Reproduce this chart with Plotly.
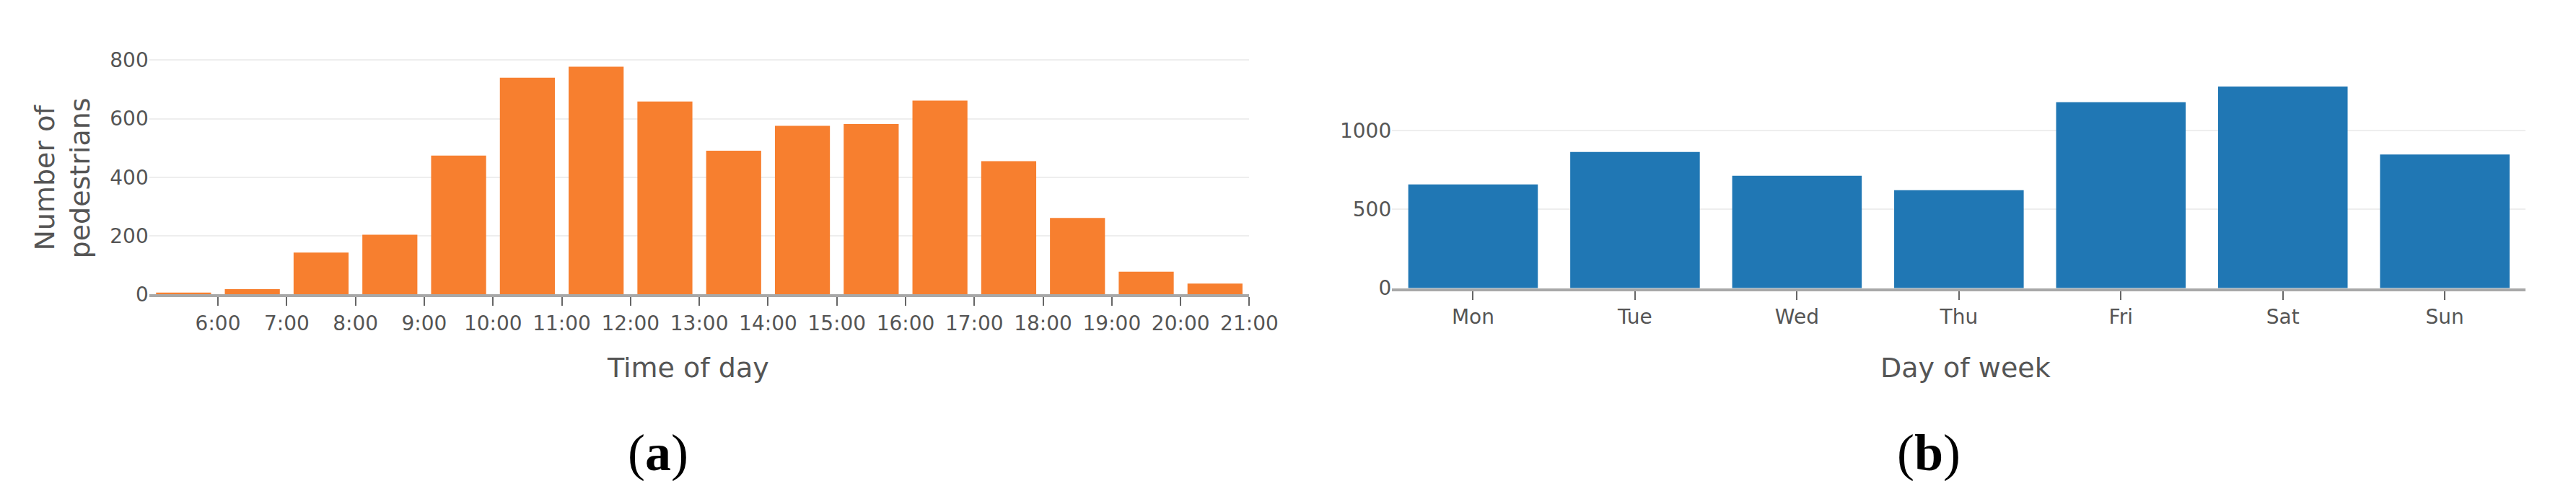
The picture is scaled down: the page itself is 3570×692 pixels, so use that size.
import plotly.graph_objects as go

# hourly counts, bar k covers hour_starts[k] .. hour_starts[k] + 1
hour_starts = [5, 6, 7, 8, 9, 10, 11, 12, 13, 14, 15, 16, 17, 18, 19, 20]
hour_counts = [6, 18, 143, 204, 474, 740, 778, 659, 491, 576, 582, 662, 455, 261, 78, 37]
hour_tickvals = [6, 7, 8, 9, 10, 11, 12, 13, 14, 15, 16, 17, 18, 19, 20, 21]
hour_ticktext = ['6:00', '7:00', '8:00', '9:00', '10:00', '11:00', '12:00', '13:00',
                 '14:00', '15:00', '16:00', '17:00', '18:00', '19:00', '20:00', '21:00']

days = ['Mon', 'Tue', 'Wed', 'Thu', 'Fri', 'Sat', 'Sun']
day_counts = [658, 863, 712, 621, 1179, 1278, 847]

W, H = 3570, 692
FONT = 'DejaVu Sans'
TXT = '#555555'


def px(x):
    return x / W


def py(y):
    return 1 - y / H


fig = go.Figure()

fig.add_trace(go.Bar(
    x=hour_starts, y=hour_counts, width=0.8, offset=0.1,
    marker=dict(color='#f77f2f', line=dict(width=0)),
    xaxis='x', yaxis='y', hoverinfo='x+y',
))
fig.add_trace(go.Bar(
    x=days, y=day_counts,
    marker=dict(color='#2077b4', line=dict(width=0)),
    xaxis='x2', yaxis='y2',
))

tickfont = dict(family=FONT, size=28, color=TXT)
xcommon = dict(showgrid=False, zeroline=False, showline=True, linecolor='#a8a8a8', linewidth=4,
               ticks='outside', ticklen=12, tickwidth=2, tickcolor='#666666', tickfont=tickfont)
ycommon = dict(showgrid=True, gridcolor='#eeeeee', gridwidth=2, zeroline=False, showline=False,
               ticks='', tickfont=tickfont)

fig.update_layout(
    width=W, height=H, autosize=False,
    margin=dict(l=0, r=0, t=0, b=0),
    paper_bgcolor='white', plot_bgcolor='white',
    showlegend=False, bargap=0.2,
    xaxis=dict(domain=[px(201), px(1743)], range=[5, 21], anchor='y',
               tickvals=hour_tickvals, ticktext=hour_ticktext, **xcommon),
    yaxis=dict(domain=[py(407), py(62)], range=[0, 819], dtick=200, anchor='x', **ycommon),
    xaxis2=dict(domain=[px(1943), px(3532)], range=[-0.5, 6.5], anchor='y2', **xcommon),
    yaxis2=dict(domain=[py(398), py(92)], range=[0, 1348], dtick=500, anchor='x2', **ycommon),
)

titlefont = dict(family=FONT, size=38, color=TXT)
fig.add_annotation(text='Time of day', x=px(956), y=py(512), xref='paper', yref='paper',
                   showarrow=False, font=titlefont, xanchor='center', yanchor='middle')
fig.add_annotation(text='Day of week', x=px(2747), y=py(512), xref='paper', yref='paper',
                   showarrow=False, font=titlefont, xanchor='center', yanchor='middle')
fig.add_annotation(text='Number of<br>pedestrians', x=px(79), y=py(240), xref='paper', yref='paper',
                   showarrow=False, font=titlefont, textangle=-90, xanchor='center', yanchor='middle')

labelfont = dict(family='Liberation Serif', size=72, color='black')
fig.add_annotation(text='(<b>a</b>)', x=px(914), y=py(635), xref='paper', yref='paper',
                   showarrow=False, font=labelfont, xanchor='center', yanchor='middle')
fig.add_annotation(text='(<b>b</b>)', x=px(2695), y=py(635), xref='paper', yref='paper',
                   showarrow=False, font=labelfont, xanchor='center', yanchor='middle')

fig.write_html('out.html')
